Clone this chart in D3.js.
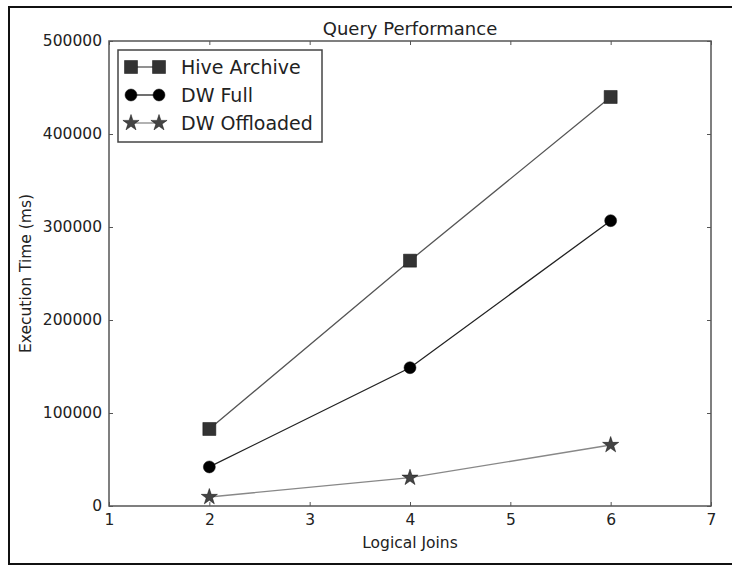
<!DOCTYPE html>
<html>
<head>
<meta charset="utf-8">
<script src="https://cdn.jsdelivr.net/npm/d3@7"></script>
<style>
  body { margin: 0; background: #fff; }
  text { font-family: "DejaVu Sans", sans-serif; fill: #222; }
</style>
</head>
<body>
<script>
// data
var joins = [2, 4, 6];
var hiveArchive = [82800, 263800, 439800];
var dwFull = [42000, 148700, 306800];
var dwOffloaded = [9700, 30400, 65600];
var xTicks = [1, 2, 3, 4, 5, 6, 7];
var yTicks = [0, 100000, 200000, 300000, 400000, 500000];
var seriesNames = ["Hive Archive", "DW Full", "DW Offloaded"];

function main() {
  var width = 732, height = 565;
  var left = 109, right = 711, top = 41, bottom = 506;

  var svg = d3.select("body").append("svg")
    .attr("width", width)
    .attr("height", height);

  // outer frame
  svg.append("rect")
    .attr("x", 9).attr("y", 7)
    .attr("width", 740).attr("height", 557)
    .attr("fill", "none")
    .attr("stroke", "#111")
    .attr("stroke-width", 2);

  var x = d3.scaleLinear().domain([1, 7]).range([left, right]);
  var y = d3.scaleLinear().domain([0, 500000]).range([bottom, top]);

  // axes, ticks point inward like the matplotlib classic style
  var tickLen = 4;
  svg.append("g").attr("transform", "translate(0," + bottom + ")")
    .call(d3.axisBottom(x).tickValues(xTicks).tickSizeInner(-tickLen).tickSizeOuter(0).tickPadding(8).tickFormat(d3.format("d")));
  svg.append("g").attr("transform", "translate(0," + top + ")")
    .call(d3.axisTop(x).tickValues(xTicks).tickSizeInner(-tickLen).tickSizeOuter(0).tickFormat(""));
  svg.append("g").attr("transform", "translate(" + left + ",0)")
    .call(d3.axisLeft(y).tickValues(yTicks).tickSizeInner(-tickLen).tickSizeOuter(0).tickPadding(7).tickFormat(d3.format("d")));
  svg.append("g").attr("transform", "translate(" + right + ",0)")
    .call(d3.axisRight(y).tickValues(yTicks).tickSizeInner(-tickLen).tickSizeOuter(0).tickFormat(""));

  svg.selectAll(".domain").remove();
  svg.selectAll(".tick line").attr("stroke", "#555").attr("stroke-width", 1);
  svg.selectAll(".tick text")
    .style("font-family", "DejaVu Sans")
    .style("font-size", "15.5px")
    .attr("fill", "#222");

  // plot frame
  svg.append("rect")
    .attr("x", left).attr("y", top)
    .attr("width", right - left).attr("height", bottom - top)
    .attr("fill", "none")
    .attr("stroke", "#555")
    .attr("stroke-width", 1.5);

  // series
  var series = [
    { name: seriesNames[0], values: hiveArchive, symbol: d3.symbolSquare, size: 169, fill: "#333", line: "#555" },
    { name: seriesNames[1], values: dwFull, symbol: d3.symbolCircle, size: 113, fill: "#000", line: "#222" },
    { name: seriesNames[2], values: dwOffloaded, symbol: d3.symbolStar, size: 81, fill: "#444", line: "#888" }
  ];

  var line = d3.line()
    .x(function (d, i) { return x(joins[i]); })
    .y(function (d) { return y(d); });

  series.forEach(function (s) {
    svg.append("path")
      .attr("d", line(s.values))
      .attr("fill", "none")
      .attr("stroke", s.line)
      .attr("stroke-width", 1.3);
    svg.selectAll(null)
      .data(s.values)
      .enter()
      .append("path")
      .attr("d", d3.symbol(s.symbol, s.size))
      .attr("transform", function (d, i) {
        return "translate(" + x(joins[i]) + "," + y(d) + ")";
      })
      .attr("fill", s.fill)
      .attr("stroke", "#111")
      .attr("stroke-width", 0.5);
  });

  // titles
  svg.append("text")
    .attr("x", (left + right) / 2).attr("y", 35)
    .attr("text-anchor", "middle")
    .style("font-size", "18px")
    .text("Query Performance");
  svg.append("text")
    .attr("x", (left + right) / 2).attr("y", 548)
    .attr("text-anchor", "middle")
    .style("font-size", "15.5px")
    .text("Logical Joins");
  svg.append("text")
    .attr("transform", "translate(31," + (top + bottom) / 2 + ") rotate(-90)")
    .attr("text-anchor", "middle")
    .style("font-size", "15.5px")
    .text("Execution Time (ms)");

  // legend
  var legend = svg.append("g");
  legend.append("rect")
    .attr("x", 118).attr("y", 50)
    .attr("width", 204).attr("height", 92)
    .attr("fill", "#fff")
    .attr("stroke", "#444")
    .attr("stroke-width", 1.5);
  var rows = legend.selectAll("g.row")
    .data(series)
    .enter()
    .append("g")
    .attr("class", "row")
    .attr("transform", function (d, i) { return "translate(0," + (67 + i * 28) + ")"; });
  rows.append("line")
    .attr("x1", 131).attr("x2", 159)
    .attr("stroke", function (d) { return d.line; })
    .attr("stroke-width", 1.3);
  rows.selectAll("path")
    .data(function (d) { return [[131, d], [159, d]]; })
    .enter()
    .append("path")
    .attr("d", function (p) { return d3.symbol(p[1].symbol, p[1].size)(); })
    .attr("transform", function (p) { return "translate(" + p[0] + ",0)"; })
    .attr("fill", function (p) { return p[1].fill; })
    .attr("stroke", "#111")
    .attr("stroke-width", 0.5);
  rows.append("text")
    .attr("x", 181).attr("y", 0)
    .attr("dy", "0.36em")
    .style("font-size", "19px")
    .text(function (d) { return d.name; });
}
document.addEventListener("DOMContentLoaded", main);
</script>
</body>
</html>
